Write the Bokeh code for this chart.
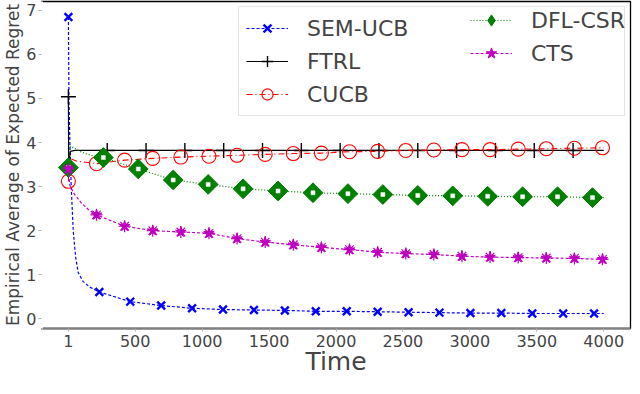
from bokeh.plotting import figure
from bokeh.models import FixedTicker, Legend, LegendItem, Range1d, ColumnDataSource
from bokeh.embed import file_html
from bokeh.resources import INLINE

# ---------------- data ----------------
X_TICKS = [1, 500, 1000, 1500, 2000, 2500, 3000, 3500, 4000]
Y_TICKS = [0, 1, 2, 3, 4, 5, 6, 7]
X_LABEL = "Time"
Y_LABEL = "Empirical Average of Expected Regret"

SEM_T = [1, 5, 12, 22, 37, 55, 74, 110, 160, 232, 463, 694, 925, 1156, 1387, 1618, 1849,
         2080, 2311, 2542, 2773, 3004, 3235, 3466, 3697, 3928, 4000]
SEM_Y = [6.85, 5.0, 4.0, 3.0, 2.0, 1.4, 1.05, 0.85, 0.72, 0.61, 0.39, 0.30, 0.24, 0.21, 0.20,
         0.19, 0.17, 0.17, 0.16, 0.15, 0.14, 0.13, 0.13, 0.12, 0.12, 0.12, 0.12]
SEM_MARK = [1, 232, 463, 694, 925, 1156, 1387, 1618, 1849, 2080, 2311, 2542, 2773, 3004,
            3235, 3466, 3697, 3928]

FTRL_T = [1, 3, 15, 50, 291, 581, 871, 1161, 1451, 1741, 2031, 2321, 2611, 2901, 3191,
          3481, 3771, 4000]
FTRL_Y = [5.04, 3.45, 3.80, 3.82, 3.82, 3.82, 3.82, 3.82, 3.82, 3.82, 3.82, 3.82, 3.82,
          3.82, 3.82, 3.82, 3.82, 3.82]
FTRL_MARK = [1, 291, 581, 871, 1161, 1451, 1741, 2031, 2321, 2611, 2901, 3191, 3481, 3771]

CUCB_T = [1, 5, 60, 211, 421, 631, 841, 1051, 1261, 1471, 1681, 1891, 2101, 2311, 2521,
          2731, 2941, 3151, 3361, 3571, 3781, 3991, 4000]
CUCB_Y = [3.12, 3.65, 3.58, 3.52, 3.60, 3.64, 3.67, 3.69, 3.71, 3.73, 3.75, 3.76, 3.79,
          3.80, 3.82, 3.83, 3.84, 3.84, 3.85, 3.86, 3.87, 3.88, 3.88]
CUCB_MARK = [1, 211, 421, 631, 841, 1051, 1261, 1471, 1681, 1891, 2101, 2311, 2521, 2731,
             2941, 3151, 3361, 3571, 3781, 3991]

DFL_T = [1, 15, 40, 100, 180, 262, 523, 784, 1045, 1306, 1567, 1828, 2089, 2350, 2611,
         2872, 3133, 3394, 3655, 3916, 4000]
DFL_Y = [3.43, 3.92, 3.88, 3.78, 3.70, 3.66, 3.40, 3.15, 3.05, 2.95, 2.90, 2.86, 2.84, 2.82,
         2.80, 2.79, 2.78, 2.77, 2.77, 2.75, 2.75]
DFL_MARK = [1, 262, 523, 784, 1045, 1306, 1567, 1828, 2089, 2350, 2611, 2872, 3133, 3394,
            3655, 3916]

CTS_T = [1, 10, 40, 100, 150, 211, 421, 631, 841, 1051, 1261, 1471, 1681, 1891, 2101, 2311,
         2521, 2731, 2941, 3151, 3361, 3571, 3781, 3991, 4000]
CTS_Y = [3.40, 3.05, 2.85, 2.62, 2.48, 2.36, 2.10, 2.00, 1.97, 1.94, 1.82, 1.74, 1.68, 1.62,
         1.57, 1.51, 1.48, 1.46, 1.42, 1.40, 1.39, 1.38, 1.37, 1.35, 1.35]
CTS_MARK = CUCB_MARK

FONT = "DejaVu Sans"


def marks(ts, ys, mark_t):
    lookup = dict(zip(ts, ys))
    return ColumnDataSource(dict(x=list(mark_t), y=[lookup[t] for t in mark_t]))


p = figure(width=632, height=378, output_backend="svg", toolbar_location=None,
           x_range=Range1d(-200, 4200), y_range=Range1d(-0.22, 7.2),
           min_border_left=0, min_border_right=2, min_border_top=1, min_border_bottom=0)
# frame outline gives the top and right spines; the left one is masked by the y axis line
p.outline_line_color = "black"
p.outline_line_width = 1.3
p.xgrid.visible = False
p.ygrid.visible = False
p.background_fill_color = "white"
p.border_fill_color = "white"

# axes
xa = p.xaxis[0]
xa.ticker = FixedTicker(ticks=X_TICKS)
xa.axis_label = X_LABEL
xa.axis_label_text_font = FONT
xa.axis_label_text_font_size = "25px"
xa.axis_label_text_font_style = "normal"
xa.axis_label_text_line_height = 0.8
xa.axis_label_standoff = -3
xa.major_label_text_font = FONT
xa.major_label_text_font_size = "16px"
xa.major_label_standoff = 3
xa.axis_line_color = "#808080"
xa.axis_line_width = 2
xa.major_tick_line_color = "#b0b0b0"
xa.major_tick_out = 3
xa.major_tick_in = 0
xa.minor_tick_line_color = None

ya = p.yaxis[0]
ya.ticker = FixedTicker(ticks=Y_TICKS)
ya.axis_label = Y_LABEL
ya.axis_label_text_font = FONT
ya.axis_label_text_font_size = "17px"
ya.axis_label_text_font_style = "normal"
ya.axis_label_standoff = 0
ya.major_label_text_font = FONT
ya.major_label_text_font_size = "16px"
ya.major_label_standoff = 2
ya.axis_line_color = "white"
ya.axis_line_width = 3
ya.major_tick_line_color = "#b0b0b0"
ya.major_tick_out = 3
ya.major_tick_in = 0
ya.minor_tick_line_color = None

# series
l1 = p.line(SEM_T, SEM_Y, line_color="#0000ff", line_width=1.2, line_dash="3 2")
m1 = p.scatter("x", "y", source=marks(SEM_T, SEM_Y, SEM_MARK), marker="x", size=11,
               line_color="#0000ff", line_width=2.4)

l2 = p.line(FTRL_T, FTRL_Y, line_color="black", line_width=1.2)
m2 = p.scatter("x", "y", source=marks(FTRL_T, FTRL_Y, FTRL_MARK), marker="cross", size=15,
               line_color="black", line_width=1.4)

l3 = p.line(CUCB_T, CUCB_Y, line_color="#ff0000", line_width=1.1, line_dash="6 3 1 3")
m3 = p.scatter("x", "y", source=marks(CUCB_T, CUCB_Y, CUCB_MARK), marker="circle", size=14,
               line_color="#ff0000", fill_color=None, line_width=1.1)

l4 = p.line(DFL_T, DFL_Y, line_color="#008000", line_width=1.2, line_dash="1 2")
src4 = marks(DFL_T, DFL_Y, DFL_MARK)
m4 = p.scatter("x", "y", source=src4, marker="square", angle=0.785398, size=14,
               line_color="#008000", fill_color="#008000", line_width=1)
m4b = p.scatter("x", "y", source=src4, marker="square", size=4,
                line_color="white", fill_color="white", line_width=0.5)
# hidden twin used only for the legend key (diamond shape)
m4k = p.scatter("x", "y", source=src4, marker="diamond", line_color="#008000",
                fill_color="#008000", visible=False)

l5 = p.line(CTS_T, CTS_Y, line_color="#bf00bf", line_width=1.2, line_dash="3 2")
src5 = marks(CTS_T, CTS_Y, CTS_MARK)
m5 = p.scatter("x", "y", source=src5, marker="star", size=11,
               line_color="#bf00bf", fill_color="#bf00bf", line_width=1)
m5b = p.scatter("x", "y", source=src5, marker="asterisk", size=12,
                line_color="#bf00bf", line_width=1.2)


# legend: framed first column + frameless second column laid on top
def style(lg):
    lg.label_text_font = FONT
    lg.label_text_font_size = "22px"
    lg.glyph_width = 42
    lg.glyph_height = 28
    lg.label_height = 28
    lg.label_standoff = 19
    lg.spacing = 5
    lg.padding = 7
    lg.margin = 5
    lg.location = "top_right"
    lg.inactive_fill_alpha = 0.0


leg1 = Legend(items=[
    LegendItem(label="SEM-UCB", renderers=[l1, m1]),
    LegendItem(label="FTRL", renderers=[l2, m2]),
    LegendItem(label="CUCB", renderers=[l3, m3]),
])
style(leg1)
leg1.label_width = 310
leg1.border_line_color = "#cccccc"
leg1.border_line_width = 1
leg1.background_fill_alpha = 0.85

leg2 = Legend(items=[
    LegendItem(label="DFL-CSR", renderers=[l4, m4k]),
    LegendItem(label="CTS", renderers=[l5, m5]),
])
style(leg2)
leg2.border_line_color = None
leg2.background_fill_alpha = 0.0

p.add_layout(leg1)
p.add_layout(leg2)

open("out.html", "w").write(file_html(p, INLINE, title="regret"))
